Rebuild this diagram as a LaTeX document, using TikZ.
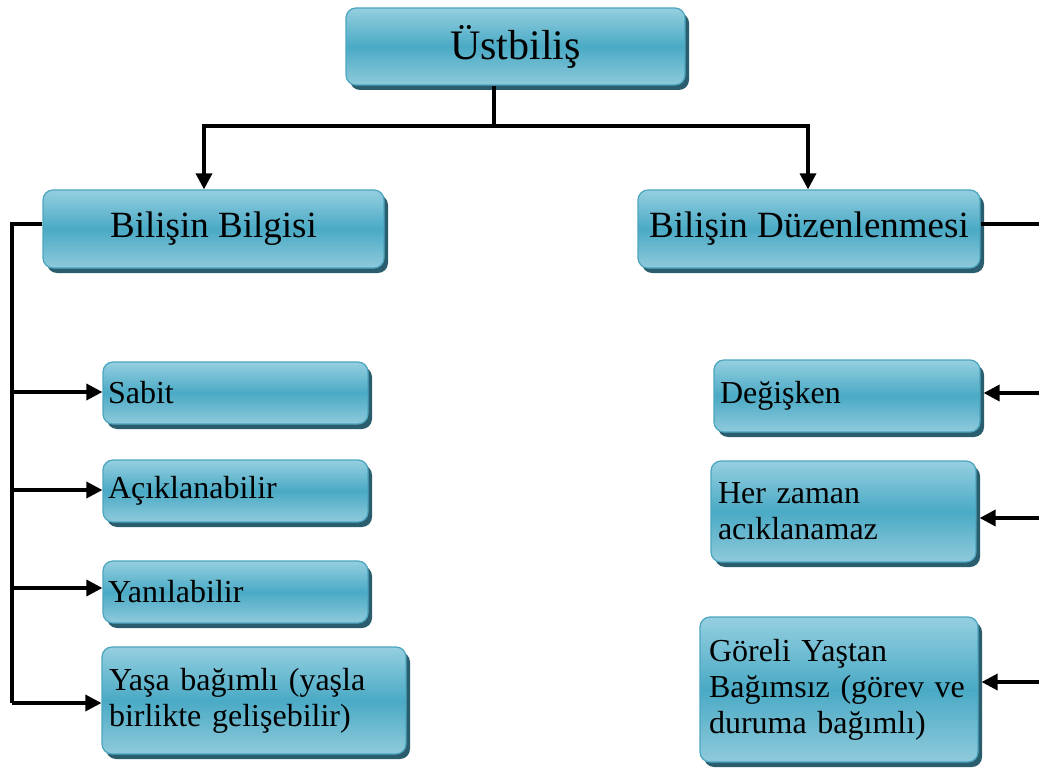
\documentclass[tikz,border=0pt]{standalone}
\usepackage{fontspec}
\setmainfont{Liberation Serif}
\usetikzlibrary{arrows.meta,shadows}
\definecolor{boxtop}{HTML}{95CFE0}
\definecolor{boxmid}{HTML}{4AAAC5}
\definecolor{boxbot}{HTML}{8FCADB}
\definecolor{boxline}{HTML}{4BA5BF}
\definecolor{boxshade}{HTML}{2A5D6D}
\tikzset{
  card/.style={draw=boxline, line width=1.2pt, rounded corners=10pt,
    top color=boxtop, bottom color=boxbot, middle color=boxmid,
    drop shadow={shadow xshift=4pt, shadow yshift=-5pt, fill=boxshade, opacity=1},
    inner xsep=6pt, inner ysep=0pt, text=black},
  bigcard/.style={card, align=center, font=\fontsize{37}{42}\selectfont},
  smallcard/.style={card, align=left, font=\fontsize{32}{36}\selectfont},
  wire/.style={draw=black, line width=3.4pt},
  wirearrow/.style={wire, -{Triangle[length=16pt,width=16pt]}}
}
\begin{document}
\begin{tikzpicture}[x=1pt,y=-1pt]
\useasboundingbox (0,0) rectangle (1039,770);

% main concept
\node[bigcard, font=\fontsize{42}{48}\selectfont, minimum width=339pt, minimum height=77pt] (top) at (515.5,46.5) {Üstbiliş};

% two branches
\node[bigcard, minimum width=341pt, minimum height=78pt] (bb) at (213.5,229) {Bilişin Bilgisi};
\node[bigcard, minimum width=342pt, minimum height=78pt] (bd) at (809,229) {Bilişin Düzenlenmesi};

% properties of knowledge of cognition
\node[smallcard, minimum height=62pt, text width=255pt, inner xsep=5pt] (sabit) at (235.5,393) {Sabit};
\node[smallcard, minimum height=62pt, text width=255pt, inner xsep=5pt] (acik) at (235.5,491) {Açıklanabilir};
\node[smallcard, minimum height=62pt, text width=255pt, inner xsep=5pt] (yan) at (235.5,592) {Yanılabilir};
\node[smallcard, minimum height=107pt, text width=290pt, inner xsep=7pt] (yasa) at (254,700.5) {Yaşa bağımlı (yaşla\\birlikte gelişebilir)};

% properties of regulation of cognition
\node[smallcard, minimum height=72pt, text width=254pt] (deg) at (847,396) {Değişken};
\node[smallcard, minimum height=101pt, text width=251pt, inner xsep=7pt] (her) at (843.5,511.5) {Her zaman\\acıklanamaz};
\node[smallcard, minimum height=145pt, text width=260pt, inner xsep=9pt] (gor) at (839,689.5) {Göreli Yaştan\\Bağımsız (görev ve\\duruma bağımlı)};

% top split
\coordinate (j) at (494,126);
\coordinate (jl) at (204,126);
\coordinate (jr) at (808,126);
\draw[wire] (top.south -| j) -- (j);
\draw[wire, line cap=rect] (jl) -- (jr);
\draw[wirearrow] (jl) -- (jl |- bb.north);
\draw[wirearrow] (jr) -- (jr |- bd.north);

% left trunk
\coordinate (lt) at (12,224);
\coordinate (lb) at (12,703);
\draw[wire, line join=miter] (lt -| bb.west) -- (lt) -- (lb);
\coordinate (l1) at (12,392);
\coordinate (l2) at (12,490);
\coordinate (l3) at (12,588);
\draw[wirearrow] (l1) -- (l1 -| sabit.west);
\draw[wirearrow] (l2) -- (l2 -| acik.west);
\draw[wirearrow] (l3) -- (l3 -| yan.west);
\draw[wirearrow] (lb) -- (lb -| yasa.west);

% right trunk (runs past the page edge)
\coordinate (rt) at (1039,224);
\draw[wire] (rt -| bd.east) -- (rt);
\coordinate (r1) at (1039,393);
\coordinate (r2) at (1039,518);
\coordinate (r3) at (1039,682);
\draw[wirearrow] (r1) -- ([xshift=3pt]r1 -| deg.east);
\draw[wirearrow] (r2) -- ([xshift=3pt]r2 -| her.east);
\draw[wirearrow] (r3) -- ([xshift=3pt]r3 -| gor.east);
\end{tikzpicture}
\end{document}
